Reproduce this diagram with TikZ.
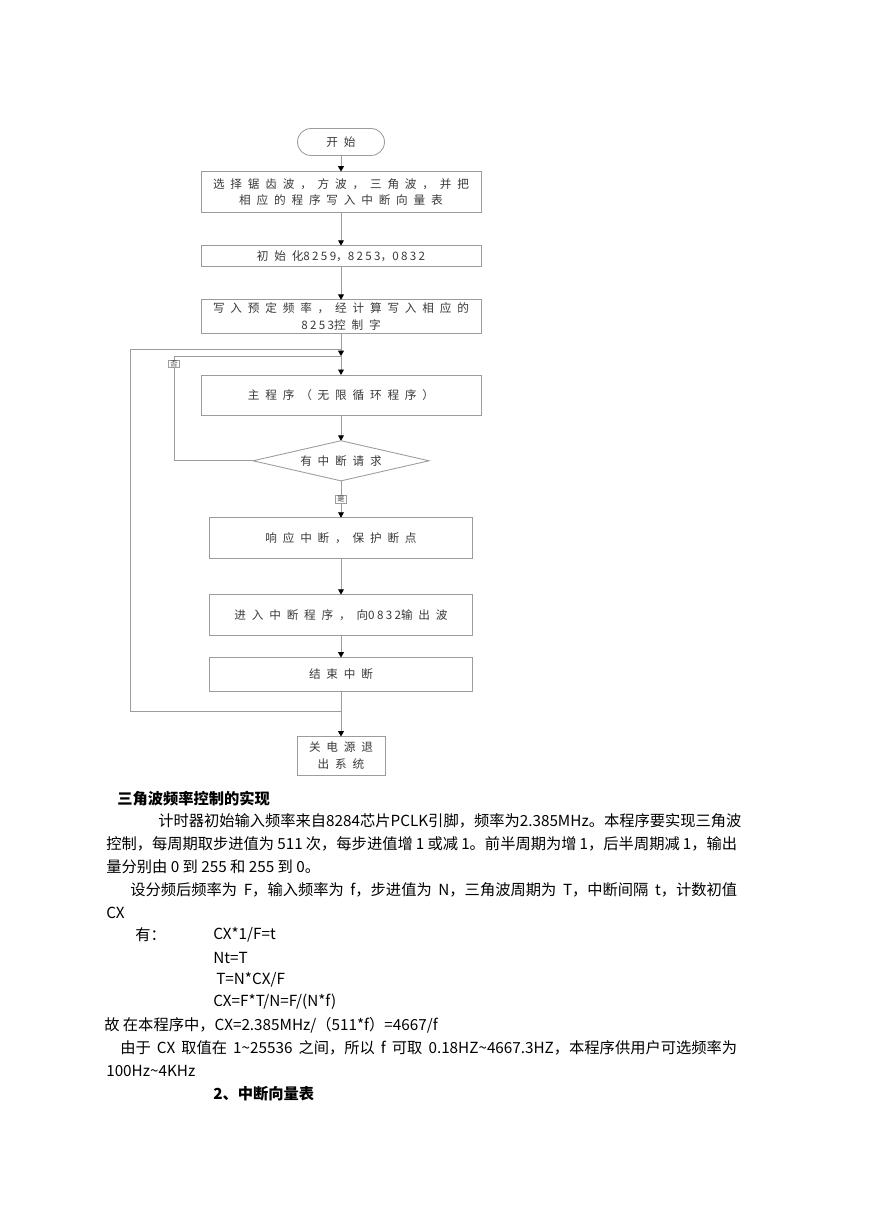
\documentclass[tikz,border=0pt]{standalone}
\usepackage{fontspec}
\setmainfont{Noto Sans CJK SC}
\newfontfamily\boxfont[LetterSpace=50]{Noto Sans CJK SC}
\newfontfamily\digitfont[LetterSpace=20]{Noto Sans CJK SC}
\usetikzlibrary{arrows.meta,positioning,shapes.geometric}
\definecolor{linegray}{HTML}{9C9C9C}
\definecolor{inkgray}{HTML}{3A3A3A}
\newcommand{\dg}[1]{{\digitfont #1}}
\newcommand{\fullline}[2]{\makebox[#1][s]{\spaceskip=0.1em plus 1fil minus 0.1em\relax #2}}

\begin{document}
\begin{tikzpicture}[
  x=0.2417mm, y=-0.2417mm,
  flowbox/.style={rectangle, draw=linegray, line width=0.6pt, outer sep=0pt, align=center, text=inkgray, font=\boxfont\fontsize{8}{11.6}\selectfont, minimum width=67.7mm, minimum height=9.9mm, inner sep=0.5pt},
  narrowbox/.style={flowbox, minimum width=63.6mm},
  startbox/.style={flowbox, rounded corners=3.2mm, minimum width=21mm, minimum height=6.5mm},
  endbox/.style={flowbox, minimum width=21.3mm, minimum height=9.4mm},
  askbox/.style={flowbox, diamond, aspect=4.4, minimum width=42.5mm, minimum height=9.7mm, inner sep=0pt},
  tag/.style={rectangle, draw=linegray, line width=0.4pt, fill=white, text=inkgray, font=\fontsize{5}{6}\selectfont, inner xsep=0.5mm, inner ysep=0.1mm},
  flowline/.style={draw=linegray, line width=0.6pt},
  arrow/.style={flowline, -{Triangle[length=1.3mm, width=1.4mm, color=black]}},
  textline/.style={anchor=west, inner sep=0pt, font=\fontsize{10.5}{12}\selectfont},
  heading/.style={textline, font=\fontsize{10.5}{12}\selectfont\bfseries}
]
\path[fill=white, use as bounding box] (0,0) rectangle (869,1228);

% flowchart
\node[startbox] (start) at (341,142) {开始};
\node[flowbox, below=3.9mm of start] (select) {选择锯齿波，方波，三角波，并把\\相应的程序写入中断向量表};
\node[flowbox, below=8mm of select, minimum height=5.1mm] (init) {初始化\dg{8259}，\dg{8253}，\dg{0832}};
\node[flowbox, below=8mm of init, minimum height=8mm] (preset) {写入预定频率，经计算写入相应的\\\dg{8253}控制字};
\node[flowbox, below=10.15mm of preset] (main) {主程序（无限循环程序）};
\node[askbox, below=6mm of main] (ask) {有中断请求};
\node[narrowbox, below=8.9mm of ask] (reply) {响应中断，保护断点};
\node[narrowbox, below=8.7mm of reply] (isr) {进入中断程序，向\dg{0832}输出波};
\node[narrowbox, below=5.3mm of isr, minimum height=8.2mm] (finish) {结束中断};
\node[endbox, below=10.9mm of finish] (off) {关电源退\\出系统};

\coordinate[below=3.9mm of preset] (mainin);
\coordinate[below=5.6mm of preset] (noin);
\coordinate[below=4.8mm of finish] (loopback);
\coordinate[left=19.1mm of ask.west] (nocorner);

\draw[arrow] (start) -- (select);
\draw[arrow] (select) -- (init);
\draw[arrow] (init) -- (preset);
\draw[flowline] (preset) -- (mainin);
\draw[arrow] (mainin) -- (noin);
\draw[arrow] (noin) -- (main);
\draw[arrow] (main) -- (ask);
\draw[arrow] (ask) -- node[tag]{是} (reply);
\draw[flowline] (ask.west) -- (nocorner);
\draw[flowline] (nocorner) |- node[tag, pos=0.462]{否} (noin);
\draw[arrow] (reply) -- (isr);
\draw[arrow] (isr) -- (finish);
\draw[arrow] (finish) -- (off);
\draw[flowline] (loopback) -- ++(-51mm,0) |- (mainin);

% text below the chart
\node[heading] (title1) at (117,799) {三角波频率控制的实现};
\node[textline] (line1) at (158,821) {\fullline{139.9mm}{计时器初始输入频率来自 8284 芯片 PCLK 引脚，频率为 2.385MHz。本程序要实现三角波}};
\node[textline] (line2) at (106,844) {\fullline{152.5mm}{控制，每周期取步进值为 511 次，每步进值增 1 或减 1。前半周期为增 1，后半周期减 1，输出}};
\node[textline] (line3) at (106,867) {量分别由 0 到 255 和 255 到 0。};
\node[textline] (line4) at (130,890) {\fullline{146.7mm}{设分频后频率为 F，输入频率为 f，步进值为 N，三角波周期为 T，中断间隔 t，计数初值}};
\node[textline] (line5) at (106,913) {CX};
\node[textline] (have) at (135,935) {有：};
\node[textline] (eq1) at (213,935) {CX*1/F=t};
\node[textline] (eq2) at (213,958) {Nt=T};
\node[textline] (eq3) at (216,980) {T=N*CX/F};
\node[textline] (eq4) at (213,1002) {CX=F*T/N=F/(N*f)};
\node[textline] (line6) at (104,1025) {故 在本程序中，CX=2.385MHz/（511*f）=4667/f};
\node[textline] (line7) at (120,1048) {\fullline{149.1mm}{由于 CX 取值在 1\textasciitilde 25536 之间，所以 f 可取 0.18HZ\textasciitilde 4667.3HZ，本程序供用户可选频率为}};
\node[textline] (line8) at (106,1071) {100Hz\textasciitilde 4KHz};
\node[heading] (title2) at (213,1094) {2、中断向量表};
\end{tikzpicture}
\end{document}
